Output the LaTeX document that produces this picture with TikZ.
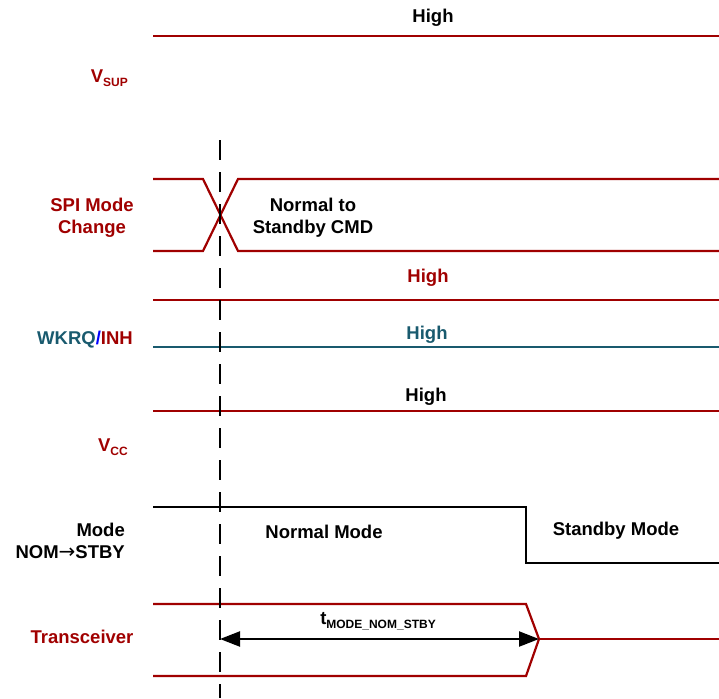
\documentclass[tikz,border=0pt]{standalone}
\usepackage{fontspec}
\setmainfont{Liberation Sans}
\newfontfamily\arrowfont{DejaVu Sans}
\usetikzlibrary{arrows.meta}
\definecolor{sigred}{RGB}{160,0,0}
\definecolor{sigteal}{RGB}{25,90,110}
\definecolor{sigblue}{RGB}{0,0,255}

\begin{document}
\begin{tikzpicture}[x=1pt,y=-1pt,
  sig/.style={line width=2.2pt,line join=miter},
  lbl/.style={inner sep=0pt,font=\fontsize{18.5}{22}\selectfont\bfseries}]
\useasboundingbox (0,0) rectangle (719,698);

%VSUP
\draw [sig,sigred] (153,36) -- (719,36) ;
\node [lbl] (vsuphigh) at (433,18) {High};
\node [lbl,sigred,anchor=east] (vsup) at (128,78) {V\raisebox{-0.35ex}{\fontsize{12}{13}\selectfont SUP}};

%SPI mode change
\draw [sig,sigred] (153,179) -- (203,179) -- (238,251) -- (719,251) ;
\draw [sig,sigred] (153,251) -- (203,251) -- (238,179) -- (719,179) ;
\node [lbl,align=center] (spicmd) at (313,218) {Normal to\\Standby CMD};
\node [lbl,sigred,align=center] (spi) at (92,218) {SPI Mode\\Change};

%WKRQ/INH
\draw [sig,sigred] (153,300) -- (719,300) ;
\draw [sig,sigteal] (153,347) -- (719,347) ;
\node [lbl,sigred] (inhhigh) at (428,278) {High};
\node [lbl,sigteal] (wkrqhigh) at (427,335) {High};
\node [lbl,anchor=east] (wkrq) at (133,340) {\textcolor{sigteal}{WKRQ}\textcolor{sigblue}{/}\textcolor{sigred}{INH}};

%VCC
\draw [sig,sigred] (153,411) -- (719,411) ;
\node [lbl] (vcchigh) at (426,397) {High};
\node [lbl,sigred,anchor=east] (vcc) at (128,447) {V\raisebox{-0.35ex}{\fontsize{12}{13}\selectfont CC}};

%Mode
\draw [sig,black] (153,507) -- (526,507) -- (526,563) -- (719,563) ;
\node [lbl] (normal) at (324,532) {Normal Mode};
\node [lbl] (standby) at (616,531) {Standby Mode};
\node [lbl,align=right,anchor=east] (mode) at (125,541) {Mode\\NOM\raisebox{0.2pt}{\arrowfont\mdseries\fontsize{20}{21}\selectfont→}STBY};

%Transceiver
\draw [sig,sigred] (153,604) -- (526,604) -- (539,639) -- (526,676) -- (153,676) ;
\draw [sig,sigred] (539,639) -- (719,639) ;
\node [lbl,sigred] (trx) at (82,637) {Transceiver};

%dashed marker
\coordinate (cmdstart) at (220,639);
\coordinate (trxoff) at (539,639);
\draw [line width=2pt,dash pattern=on 20pt off 12pt] (220,140) -- (220,698) ;
\draw [line width=2.2pt,{Triangle[length=20pt,width=15pt]}-{Triangle[length=20pt,width=15pt]}] (cmdstart) -- (trxoff) ;
\node [lbl] (tmode) at (378,621) {t\raisebox{-0.35ex}{\fontsize{12}{13}\selectfont MODE\_NOM\_STBY}};

\end{tikzpicture}
\end{document}
